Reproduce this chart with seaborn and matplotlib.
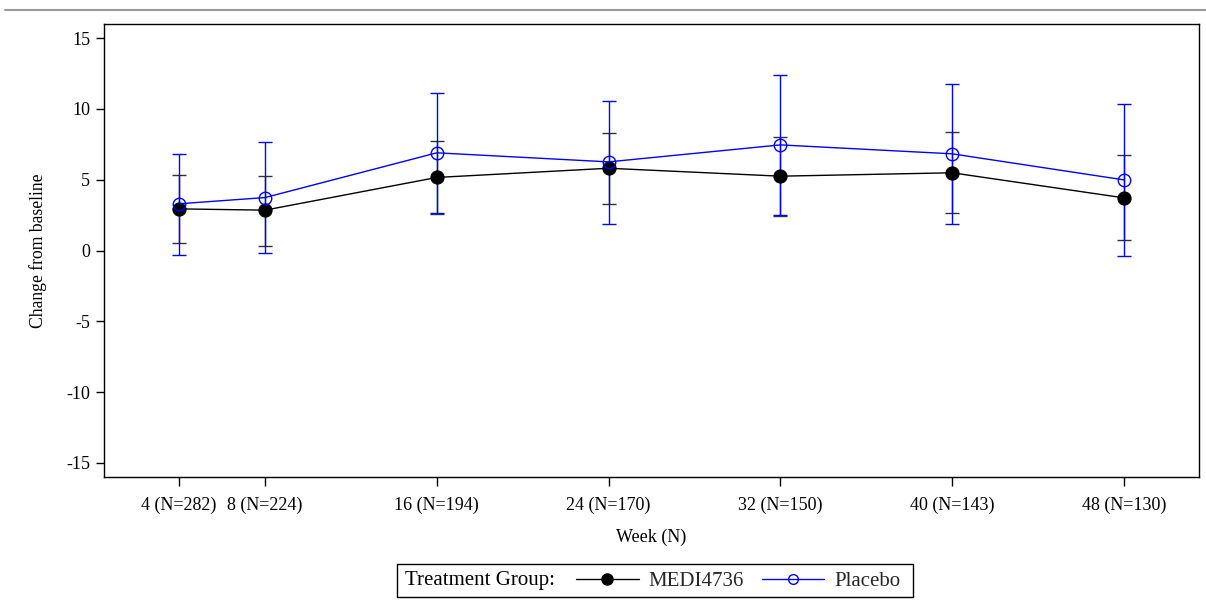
import matplotlib
matplotlib.use("Agg")
import matplotlib.pyplot as plt
from matplotlib.lines import Line2D
from matplotlib.patches import Rectangle
import seaborn as sns
import pandas as pd
import numpy as np

weeks = [4, 8, 16, 24, 32, 40, 48]
tick_labels = ["4 (N=282)", "8 (N=224)", "16 (N=194)", "24 (N=170)",
               "32 (N=150)", "40 (N=143)", "48 (N=130)"]
y_ticks = [-15, -10, -5, 0, 5, 10, 15]

medi_mean = [2.94, 2.85, 5.16, 5.81, 5.25, 5.49, 3.72]
medi_lo = [0.56, 0.35, 2.61, 3.25, 2.47, 2.64, 0.75]
medi_hi = [5.32, 5.25, 7.70, 8.31, 8.03, 8.40, 6.73]

plc_mean = [3.30, 3.74, 6.90, 6.26, 7.46, 6.83, 4.99]
plc_lo = [-0.35, -0.21, 2.62, 1.88, 2.54, 1.84, -0.40]
plc_hi = [6.85, 7.68, 11.16, 10.57, 12.38, 11.79, 10.38]

groups = ["MEDI4736", "Placebo"]

sns.set_theme(style="white")
plt.rcParams["font.family"] = ["Liberation Serif", "DejaVu Serif"]
plt.rcParams["axes.unicode_minus"] = False

df = pd.DataFrame({
    "week": weeks * 2,
    "value": medi_mean + plc_mean,
    "group": [groups[0]] * len(weeks) + [groups[1]] * len(weeks),
})

W, H = 1206, 603
fig = plt.figure(figsize=(W / 100, H / 100), dpi=100)
ax = fig.add_axes([104 / W, 1 - 477 / H, (1199 - 104) / W, (477 - 24) / H])

black = "#000000"
blue = "#0000ff"

# error bars
ax.errorbar(weeks, medi_mean,
            yerr=[np.array(medi_mean) - np.array(medi_lo), np.array(medi_hi) - np.array(medi_mean)],
            fmt="none", ecolor="#333333", elinewidth=1.0, capsize=5.3, capthick=1.0, zorder=2)
ax.errorbar(weeks, plc_mean,
            yerr=[np.array(plc_mean) - np.array(plc_lo), np.array(plc_hi) - np.array(plc_mean)],
            fmt="none", ecolor=blue, elinewidth=1.0, capsize=5.3, capthick=1.0, zorder=3)

sns.lineplot(data=df[df.group == groups[0]], x="week", y="value", ax=ax,
             color=black, linewidth=1.0, marker="o", markersize=9.5,
             markerfacecolor=black, markeredgecolor=black, zorder=4, legend=False)
sns.lineplot(data=df[df.group == groups[1]], x="week", y="value", ax=ax,
             color=blue, linewidth=1.0, marker="o", markersize=9,
             markerfacecolor="none", markeredgecolor=blue, markeredgewidth=1.0,
             zorder=5, legend=False)

ax.set_xlim(0.5, 51.5)
ax.set_ylim(-16, 16)
ax.set_yticks(y_ticks)
ax.set_yticklabels([str(v) for v in y_ticks])
ax.set_xticks(weeks)
ax.set_xticklabels(tick_labels)
ax.tick_params(axis="both", which="both", direction="out", width=1,
               color="black", labelsize=13, labelcolor="black",
               left=True, bottom=True)
ax.tick_params(axis="x", length=6.5, pad=7.5)
ax.tick_params(axis="y", length=6, pad=4)
for s in ax.spines.values():
    s.set_color("black")
    s.set_linewidth(1.0)
ax.set_xlabel("Week (N)", fontsize=13, color="black")
ax.set_ylabel("Change from baseline", fontsize=12.7, color="black")
ax.xaxis.set_label_coords(0.5, (477 - 529) / 453)
ax.yaxis.set_label_coords((47 - 104) / 1095, 0.5)

# top gray rule
fig.add_artist(Line2D([5 / W, 1.0], [1 - 10 / H, 1 - 10 / H],
                      color="#999999", linewidth=1.5, transform=fig.transFigure))

# legend frame and title text
fig.add_artist(Rectangle((397 / W, 1 - 597 / H), (913 - 397) / W, (597 - 564) / H,
                         transform=fig.transFigure, fill=False, edgecolor="black",
                         linewidth=1.0))
fig.text(405 / W, 1 - 581 / H, "Treatment Group:", fontsize=15, color="black",
         ha="left", va="center")

handles = [
    Line2D([], [], color=black, linewidth=1.0, marker="o", markersize=8,
           markerfacecolor=black, markeredgecolor=black),
    Line2D([], [], color=blue, linewidth=1.0, marker="o", markersize=7,
           markerfacecolor="none", markeredgecolor=blue),
]
leg = fig.legend(handles, groups, loc="center left",
                 bbox_to_anchor=(576 / W, 1 - 581 / H),
                 ncol=2, frameon=False, fontsize=15,
                 handlelength=3.0, handletextpad=0.48, columnspacing=0.85,
                 borderpad=0.0, borderaxespad=0.0)

fig.savefig("out.png", dpi=100, facecolor="white")
